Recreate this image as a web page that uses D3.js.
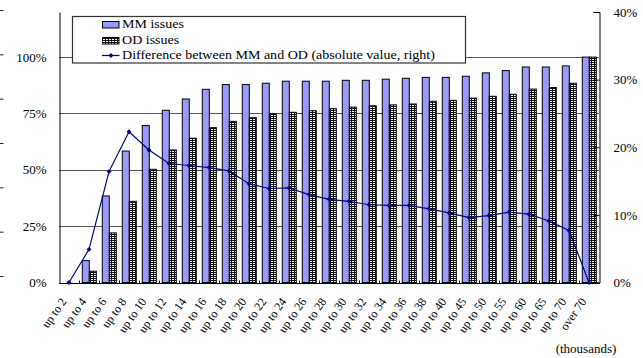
<!DOCTYPE html>
<html>
<head>
<meta charset="utf-8">
<script src="https://cdn.jsdelivr.net/npm/d3@7"></script>
<style>
  html, body { margin: 0; padding: 0; background: #fff; }
  svg { display: block; }
</style>
</head>
<body>
<svg id="chart" width="643" height="358"></svg>
<script>
// Income brackets (thousands)
const categories = [
  "up to 2", "up to 4", "up to 6", "up to 8", "up to 10", "up to 12", "up to 14",
  "up to 16", "up to 18", "up to 20", "up to 22", "up to 24", "up to 26", "up to 28",
  "up to 30", "up to 32", "up to 34", "up to 36", "up to 38", "up to 40", "up to 45",
  "up to 50", "up to 55", "up to 60", "up to 65", "up to 70", "over 70"
];
// Cumulative share of issues (%), left axis
const mmIssues = [
  0, 9.7, 38.4, 58.3, 69.6, 76.4, 81.4, 85.7, 87.8, 87.8, 88.4, 89.3, 89.3, 89.3,
  89.7, 89.7, 90.2, 90.6, 91.0, 91.0, 91.5, 93.0, 94.0, 95.6, 95.6, 96.1, 100
];
const odIssues = [
  0, 5.0, 22.0, 36.0, 50.2, 58.8, 64.0, 68.7, 71.5, 73.1, 74.8, 75.5, 76.2, 77.1,
  77.8, 78.4, 78.8, 79.2, 80.4, 80.8, 81.8, 82.6, 83.5, 85.8, 86.5, 88.4, 100
];
// Absolute difference between MM and OD (%), right axis
const difference = [
  0, 4.9, 16.4, 22.3, 19.6, 17.6, 17.3, 17.0, 16.5, 14.6, 13.9, 14.0, 13.0, 12.3,
  12.0, 11.5, 11.4, 11.4, 10.9, 10.3, 9.6, 9.9, 10.4, 10.1, 9.1, 7.7, 0
];
const leftTicks = [0, 25, 50, 75, 100];
const rightTicks = [0, 10, 20, 30, 40];
const seriesNames = ["MM issues", "OD issues", "Difference between MM and OD (absolute value, right)"];

const FONT = '"Liberation Serif", "Times New Roman", "DejaVu Serif", serif';

const svg = d3.select("#chart").attr("font-family", FONT);
const plot = { left: 59, right: 599, top: 12, bottom: 282.5 };

const x = d3.scaleBand().domain(categories).range([plot.left, plot.right]).padding(0);
const inner = d3.scaleBand().domain(["MM", "OD"]).range([3.3, x.bandwidth() - 2.7]);
const yL = d3.scaleLinear().domain([0, 120]).range([plot.bottom, plot.top]);
const yR = d3.scaleLinear().domain([0, 40]).range([plot.bottom, plot.top]);

// grid fill for OD bars
const defs = svg.append("defs");
const pat = defs.append("pattern").attr("id", "odGrid")
  .attr("patternUnits", "userSpaceOnUse").attr("width", 3).attr("height", 2);
pat.append("rect").attr("width", 3).attr("height", 2).attr("fill", "#fff");
pat.append("rect").attr("x", 0).attr("y", 0).attr("width", 3).attr("height", 1).attr("fill", "#111");
pat.append("rect").attr("x", 0).attr("y", 0).attr("width", 1).attr("height", 2).attr("fill", "#111");

// edge of a neighbouring axis at the left border
const edgeTicks = d3.range(7);
const edgeY = d3.scaleLinear().domain([0, 6]).range([10.5, 276.5]);
svg.append("g").selectAll("line").data(edgeTicks).join("line")
  .attr("x1", 0).attr("x2", 3.5)
  .attr("y1", d => edgeY(d)).attr("y2", d => edgeY(d))
  .attr("stroke", "#222").attr("stroke-width", 1);

// horizontal gridlines (left axis)
svg.append("g").selectAll("line").data(leftTicks.filter(d => d > 0)).join("line")
  .attr("x1", plot.left).attr("x2", plot.right)
  .attr("y1", d => Math.round(yL(d)) + 0.5).attr("y2", d => Math.round(yL(d)) + 0.5)
  .attr("stroke", "#555").attr("stroke-width", 1);

// bars
const barG = svg.append("g");
categories.forEach((c, i) => {
  const x0 = x(c);
  barG.append("rect")
    .attr("x", x0 + inner("MM")).attr("width", inner.bandwidth())
    .attr("y", yL(mmIssues[i])).attr("height", yL(0) - yL(mmIssues[i]))
    .attr("fill", "#9999ff").attr("stroke", "#000").attr("stroke-width", 1);
  barG.append("rect")
    .attr("x", x0 + inner("OD")).attr("width", inner.bandwidth())
    .attr("y", yL(odIssues[i])).attr("height", yL(0) - yL(odIssues[i]))
    .attr("fill", "url(#odGrid)").attr("stroke", "#000").attr("stroke-width", 1);
});

// left axis
const axL = svg.append("g").attr("transform", `translate(${plot.left + 0.5},0)`)
  .call(d3.axisLeft(yL).tickValues(leftTicks).tickSize(0).tickPadding(13).tickFormat(d => d + "%"));
axL.attr("font-family", FONT).attr("font-size", 13);
axL.select(".domain").attr("stroke", "#000");

// right axis (ticks point inward)
const axR = svg.append("g").attr("transform", `translate(${plot.right + 0.5},0)`)
  .call(d3.axisRight(yR).tickValues(rightTicks).tickSize(-6).tickPadding(14).tickFormat(d => d + "%"));
axR.attr("font-family", FONT).attr("font-size", 13);
axR.select(".domain").attr("stroke", "#000");
axR.selectAll("line").attr("stroke", "#000");

// bottom axis with category boundary ticks pointing up
const axB = svg.append("g").attr("transform", `translate(0,${Math.round(plot.bottom) + 0.5})`);
axB.append("line").attr("x1", plot.left).attr("x2", plot.right + 1).attr("stroke", "#000");
axB.selectAll(".bt").data(categories.slice(1)).join("line").attr("class", "bt")
  .attr("x1", d => Math.round(x(d)) + 0.5).attr("x2", d => Math.round(x(d)) + 0.5)
  .attr("y1", 0).attr("y2", -3).attr("stroke", "#000");

// category labels, rotated
svg.append("g").attr("font-size", 12).selectAll("text").data(categories).join("text")
  .attr("transform", d => `translate(${x(d) + x.bandwidth() / 2 - 2},${plot.bottom + 19}) rotate(-55)`)
  .attr("text-anchor", "end")
  .text(d => d);

svg.append("text").attr("x", 586).attr("y", 353).attr("text-anchor", "middle")
  .attr("font-size", 13).text("(thousands)");

// difference line (right axis)
const lineGen = d3.line()
  .x((d, i) => x(categories[i]) + x.bandwidth() / 2)
  .y(d => yR(d));
svg.append("path").datum(difference)
  .attr("d", lineGen).attr("fill", "none").attr("stroke", "#000080").attr("stroke-width", 1.2);
svg.append("g").selectAll("path").data(difference).join("path")
  .attr("transform", (d, i) => `translate(${x(categories[i]) + x.bandwidth() / 2},${yR(d)}) rotate(45)`)
  .attr("d", d3.symbol().type(d3.symbolSquare).size(12))
  .attr("fill", "#000080");

// legend
const lg = svg.append("g");
lg.append("rect").attr("x", 72.5).attr("y", 16.5).attr("width", 393).attr("height", 46.5)
  .attr("fill", "#fff").attr("stroke", "#333").attr("stroke-width", 1.2);
const rows = [28, 44, 59];
lg.append("rect").attr("x", 102.5).attr("y", 21.5).attr("width", 16.5).attr("height", 6.5)
  .attr("fill", "#9999ff").attr("stroke", "#000");
lg.append("rect").attr("x", 102.5).attr("y", 37.5).attr("width", 16.5).attr("height", 6.5)
  .attr("fill", "url(#odGrid)").attr("stroke", "#000");
lg.append("line").attr("x1", 102).attr("x2", 119.5).attr("y1", 55.5).attr("y2", 55.5)
  .attr("stroke", "#000080").attr("stroke-width", 1.2);
lg.append("path").attr("transform", "translate(111,55.5) rotate(45)")
  .attr("d", d3.symbol().type(d3.symbolSquare).size(12)).attr("fill", "#000080");
lg.selectAll(".lt").data(seriesNames).join("text").attr("class", "lt")
  .attr("transform", (d, i) => `translate(122,${rows[i]}) scale(1.17,1)`)
  .attr("font-size", 12).text(d => d);
</script>
</body>
</html>
